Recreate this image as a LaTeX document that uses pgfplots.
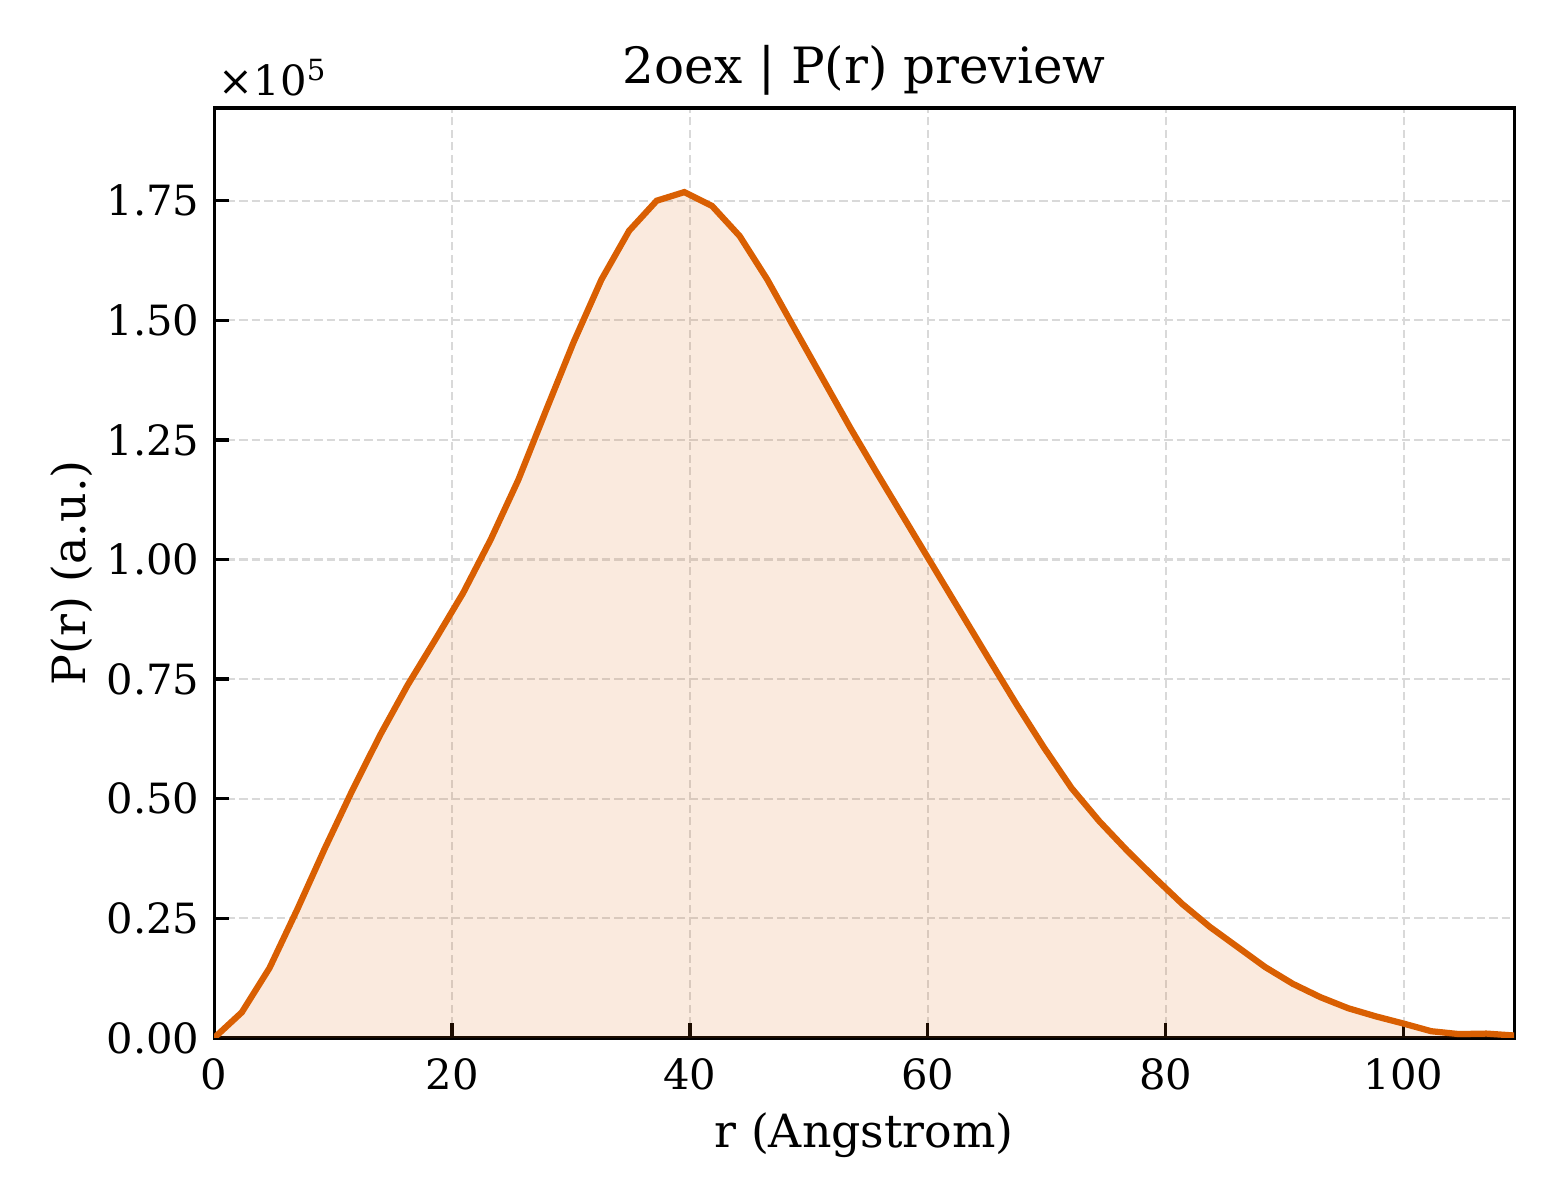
\documentclass[border=0pt]{standalone}
\usepackage{fontspec}
\setmainfont{DejaVu Serif}
\usepackage{pgfplots}
\pgfplotsset{compat=1.18}
\usepackage{pgfplotstable}

\definecolor{pr}{HTML}{D95F02}
\definecolor{gridc}{HTML}{D9D9D9}

% P(r) in units of 1e5
\pgfplotstableread{
r       p
0.000   0.000
2.326   0.0535
4.651   0.146
6.977   0.268
9.302   0.396
11.628  0.518
13.953  0.633
16.279  0.738
18.604  0.833
20.930  0.930
23.255  1.042
25.581  1.167
27.906  1.312
30.232  1.455
32.557  1.585
34.883  1.687
37.208  1.750
39.534  1.768
41.859  1.739
44.185  1.676
46.510  1.585
48.836  1.481
51.161  1.378
53.487  1.275
55.812  1.177
58.138  1.081
60.463  0.985
62.789  0.889
65.114  0.793
67.440  0.698
69.765  0.607
72.091  0.522
74.416  0.453
76.742  0.392
79.067  0.335
81.393  0.280
83.718  0.232
86.044  0.190
88.369  0.148
90.695  0.113
93.020  0.085
95.346  0.062
97.671  0.045
99.997  0.030
102.322 0.014
104.648 0.008
106.973 0.009
109.299 0.005
}\prdata

\begin{document}
\begin{tikzpicture}
\begin{axis}[
    scale only axis,
    width=312pt, height=223.2pt,
    xmin=0, xmax=109.3,
    ymin=0, ymax=1.944,
    clip mode=individual,
    xtick={0,20,...,100},
    ytick={0,0.25,...,1.75},
    yticklabel style={/pgf/number format/.cd,fixed,fixed zerofill,precision=2},
    /pgf/number format/assume math mode=true,
    tick label style={font=\fontsize{10}{12}\selectfont},
    xticklabel style={yshift=-1.4pt},
    tick align=inside,
    tick pos=left,
    major tick length=3.5pt,
    every tick/.style={black, line width=0.8pt},
    axis line style={line width=0.8pt},
    grid=major,
    major grid style={gridc, line width=0.5pt, dash pattern=on 2pt off 1pt},
    xlabel={r (Angstrom)},
    ylabel={P(r) (a.u.)},
    label style={font=\fontsize{11}{13}\selectfont},
    xlabel style={at={(axis description cs:0.5,-0.118)}, anchor=base},
    ylabel style={at={(axis description cs:-0.099,0.5)}, anchor=base},
    title={2oex | P(r) preview},
    every axis title shift=0pt,
    title style={font=\fontsize{12}{14}\selectfont, at={(axis description cs:0.5,1)}, anchor=base, yshift=5.9pt},
]
\addplot[draw=none, fill=pr, fill opacity=0.13] table[x=r, y=p] {\prdata} \closedcycle;
\addplot[pr, line width=1.5pt] table[x=r, y=p] {\prdata};
\node[anchor=base west, inner sep=0pt, font=\fontsize{10}{12}\selectfont]
    at (axis description cs:0.003,1) [yshift=3pt] {×10\textsuperscript{5}};
\end{axis}
\path[use as bounding box] ([xshift=-51.4pt, yshift=-38.9pt]current axis.south west) rectangle ++(374.4pt,288pt);
\end{tikzpicture}
\end{document}
